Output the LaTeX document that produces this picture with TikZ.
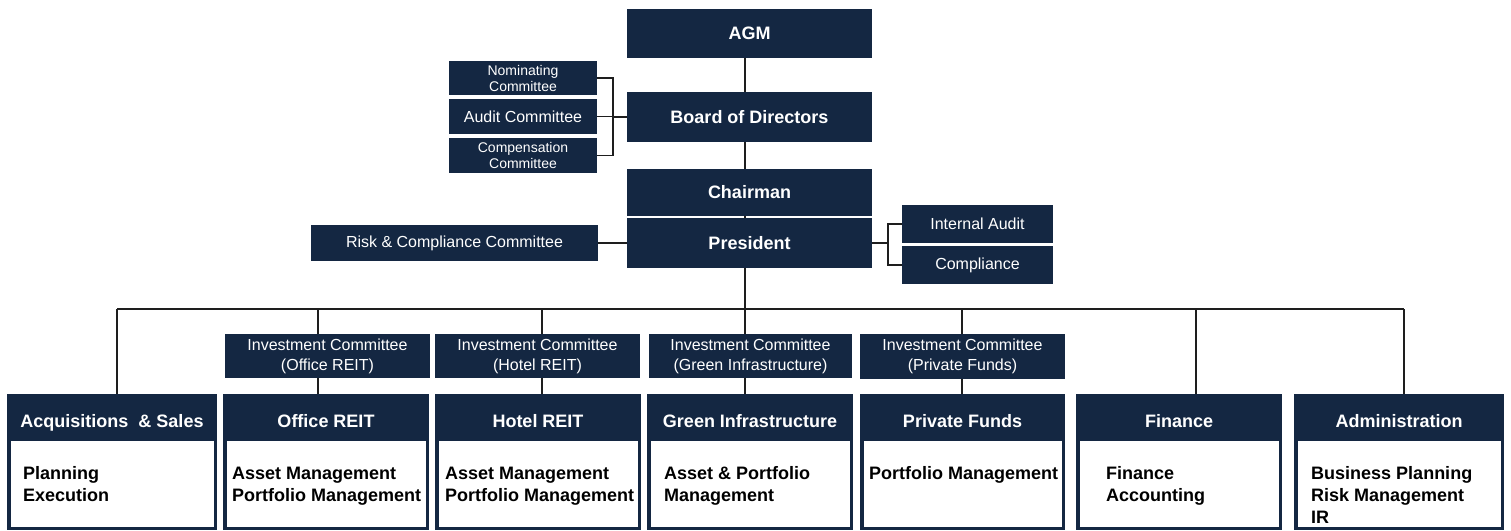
\documentclass[tikz,border=0pt]{standalone}
\usepackage{fontspec}
\setmainfont{Liberation Sans}
\definecolor{navy}{RGB}{20,39,66}
\definecolor{wire}{RGB}{30,30,30}
\newcommand\HdrFont{\fontsize{18}{21}\selectfont\bfseries}
\newcommand\RegFont{\fontsize{16}{20}\selectfont}
\newcommand\SmallFont{\fontsize{14}{16}\selectfont}
\newcommand\BodyFont{\fontsize{18}{22}\selectfont\bfseries}
\newcommand\nbox[7]{\node[navybox,font=#6,minimum width={#4-#2},minimum height={#5-#3}] (#1) at ({(#2+#4)/2},{(#3+#5)/2}) {#7};}
\newcommand\dept[6]{%
  \node[deptframe,minimum width={#3-#2},minimum height=136] (#1) at ({(#2+#3)/2},462) {};
  \node[deptbody,minimum width={#3-#2-7},minimum height=86] (#1-b) at ({(#2+#3)/2},484) {};
  \node[hdrtext,anchor=base] (#1-t) at ({(#2+#3)/2},427) {#4};
  \node[bodytext,anchor=north west] (#1-x) at (#5,466.5) {#6};}
\begin{document}
\begin{tikzpicture}[x=1pt,y=-1pt,
  navybox/.style={fill=navy,text=white,inner sep=0,align=center,draw=none},
  deptframe/.style={fill=navy,inner sep=0,draw=none},
  deptbody/.style={fill=white,inner sep=0,draw=none},
  hdrtext/.style={text=white,font=\HdrFont,inner sep=0},
  bodytext/.style={text=black,font=\BodyFont,align=left,inner sep=0},
  wireline/.style={draw=wire,line width=1.4},
  stub/.style={draw=wire,line width=2.4}]
\useasboundingbox (0,0) rectangle (1511,530);
% top chain
\nbox{agm}{627}{9}{872}{58}{\HdrFont}{AGM}
\nbox{board}{627}{92}{872}{142}{\HdrFont}{Board of Directors}
\nbox{chair}{627}{169}{872}{216}{\HdrFont}{Chairman}
\nbox{pres}{627}{218}{872}{268}{\HdrFont}{President}
% board committees
\nbox{nom}{449}{61}{597}{95}{\SmallFont}{Nominating\\Committee}
\nbox{aud}{449}{99}{597}{134}{\RegFont}{Audit Committee}
\nbox{comp}{449}{138}{597}{173}{\SmallFont}{Compensation\\Committee}
% president side boxes
\nbox{risk}{311}{225}{598}{261}{\RegFont}{Risk \& Compliance Committee}
\nbox{ia}{902}{205}{1053}{243}{\RegFont}{Internal Audit}
\nbox{cpl}{902}{246}{1053}{284}{\RegFont}{Compliance}
% investment committees
\nbox{icoff}{225}{334}{430}{378}{\RegFont}{Investment Committee\\(Office REIT)}
\nbox{ichot}{435}{334}{640}{378}{\RegFont}{Investment Committee\\(Hotel REIT)}
\nbox{icgrn}{649}{334}{852}{378}{\RegFont}{Investment Committee\\(Green Infrastructure)}
\nbox{icpf}{860}{334}{1065}{379}{\RegFont}{Investment Committee\\(Private Funds)}
% departments
\dept{acq}{7}{217}{Acquisitions \ \& Sales}{23}{Planning\\Execution}
\dept{off}{223}{429}{Office REIT}{232}{Asset Management\\Portfolio Management}
\dept{hot}{435}{641}{Hotel REIT}{445}{Asset Management\\Portfolio Management}
\dept{grn}{647}{853}{Green Infrastructure}{664}{Asset \& Portfolio\\Management}
\dept{pf}{860}{1065}{Private Funds}{869}{Portfolio Management}
\dept{fin}{1076}{1282}{Finance}{1106}{Finance\\Accounting}
\dept{adm}{1294}{1504}{Administration}{1311}{Business Planning\\Risk Management\\IR}
% spine
\coordinate (spine) at (745,0);
\draw[wireline] (spine |- agm.south) -- (spine |- board.north);
\draw[wireline] (spine |- board.south) -- (spine |- chair.north);
\draw[wireline] (spine |- chair.south) -- (spine |- pres.north);
% committee bracket
\coordinate (cb) at (613,117);
\draw[wireline] (nom.east) -| (cb);
\draw[wireline] (comp.east) -| (cb);
\draw[wireline] (aud.east) -- (aud.east -| cb);
\draw[stub] (cb) -- (cb -| board.west);
% risk
\draw[stub] (risk.east) -- (risk.east -| pres.west);
% internal audit bracket
\coordinate (pb) at (888,243);
\draw[wireline] (ia.west) -| (pb);
\draw[wireline] (cpl.west) -| (pb);
\draw[stub] (pres.east |- pb) -- (pb);
% bus
\coordinate (busL) at (117,309);
\coordinate (busR) at (1404,309);
\draw[wireline] (spine |- pres.south) -- (spine |- busL);
\draw[wireline] (busL) -- (busR);
\coordinate (t1) at (117,309);
\coordinate (t2) at (318,309);
\coordinate (t3) at (542,309);
\coordinate (t4) at (745,309);
\coordinate (t5) at (962,309);
\coordinate (t6) at (1196,309);
\coordinate (t7) at (1404,309);
\draw[wireline] (t1) -- (t1 |- acq.north);
\draw[wireline] (t2) -- (t2 |- icoff.north);
\draw[wireline] (t2 |- icoff.south) -- (t2 |- off.north);
\draw[wireline] (t3) -- (t3 |- ichot.north);
\draw[wireline] (t3 |- ichot.south) -- (t3 |- hot.north);
\draw[wireline] (t4) -- (t4 |- icgrn.north);
\draw[wireline] (t4 |- icgrn.south) -- (t4 |- grn.north);
\draw[wireline] (t5) -- (t5 |- icpf.north);
\draw[wireline] (t5 |- icpf.south) -- (t5 |- pf.north);
\draw[wireline] (t6) -- (t6 |- fin.north);
\draw[wireline] (t7) -- (t7 |- adm.north);
\end{tikzpicture}
\end{document}
